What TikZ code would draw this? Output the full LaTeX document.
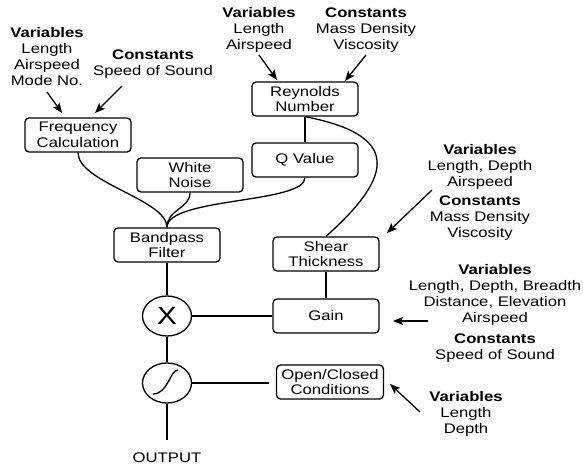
\documentclass[tikz,border=0pt]{standalone}
\usepackage{fontspec}
\setmainfont[FakeStretch=1.2]{Liberation Sans}
\usetikzlibrary{arrows.meta,shapes.geometric}
\begin{document}
\begin{tikzpicture}[x=1pt,y=-1pt,line width=1.3pt,
  box/.style={draw,rounded corners=4pt,minimum width=106pt,minimum height=34pt,align=center,inner sep=1pt,font=\fontsize{13.9}{15.5}\selectfont},
  lbl/.style={align=center,inner sep=0pt,font=\fontsize{13.9}{16}\selectfont},
  arr/.style={-{Stealth[length=10pt,width=8pt,inset=2pt]}},
  ell/.style={draw,ellipse,minimum width=49pt,minimum height=40pt,inner sep=0pt}]
\useasboundingbox (0,0) rectangle (583,466);

% boxes
\node[box] (freq) at (78,135) {Frequency\\Calculation};
\node[box] (rey) at (305,99) {Reynolds\\Number};
\node[box] (q) at (305,160) {Q Value};
\node[box] (wn) at (190,175) {White\\Noise};
\node[box] (bp) at (167,245) {Bandpass\\Filter};
\node[box] (sh) at (326,254) {Shear\\Thickness};
\node[box] (gain) at (326,316) {Gain};
\node[box,minimum width=107pt,inner sep=0pt] (oc) at (330,382) {Open/Closed\\Conditions};

% ellipses
\node[ell] (mul) at (167,316) {\fontsize{25}{25}\selectfont X};
\node[ell] (sig) at (167,383) {};
\path (sig.center) ++(-14,11) coordinate (s1);
\draw (s1) .. controls ++(15,0) and ++(-8,0) .. ++(25,-24);

% labels
\node[lbl] (v1) at (47,57) {\textbf{Variables}\\Length\\Airspeed\\Mode No.};
\node[lbl] (c1) at (153,64) {\textbf{Constants}\\Speed of Sound};
\node[lbl] (v2) at (259,30) {\textbf{Variables}\\Length\\Airspeed};
\node[lbl] (c2) at (366,30) {\textbf{Constants}\\Mass Density\\Viscosity};
\node[lbl] (v3) at (480,167) {\textbf{Variables}\\Length, Depth\\Airspeed};
\node[lbl] (c3) at (480,218) {\textbf{Constants}\\Mass Density\\Viscosity};
\node[lbl] (v4) at (495,295) {\textbf{Variables}\\Length, Depth, Breadth\\Distance, Elevation\\Airspeed};
\node[lbl] (c4) at (495,348) {\textbf{Constants}\\Speed of Sound};
\node[lbl] (v5) at (466,414) {\textbf{Variables}\\Length\\Depth};
\node[lbl] (out) at (167,458) {OUTPUT};

% arrow tail coordinates
\coordinate (a1s) at (47,92);   \coordinate (a1e) at (62,113);
\coordinate (a2s) at (122,86);  \coordinate (a2e) at (95,113);
\coordinate (a3s) at (259,55);  \coordinate (a3e) at (277,80);
\coordinate (a4s) at (366,55);  \coordinate (a4e) at (345,81);
\coordinate (a5s) at (432,190); \coordinate (a5e) at (387,233);
\coordinate (a6s) at (428,321); \coordinate (a6e) at (393,321);
\coordinate (a7s) at (420,412); \coordinate (a7e) at (390,384);
\draw[arr] (a1s) -- (a1e);
\draw[arr] (a2s) -- (a2e);
\draw[arr] (a3s) -- (a3e);
\draw[arr] (a4s) -- (a4e);
\draw[arr] (a5s) -- (a5e);
\draw[arr] (a6s) -- (a6e);
\draw[arr] (a7s) -- (a7e);

% connectors
\draw (freq.south) .. controls ++(0,30) and ++(0,-28) .. (bp.north);
\draw (wn.south) .. controls ++(0,16) and ++(0,-18) .. (bp.north);
\draw (q.south) .. controls ++(0,26) and ++(0,-30) .. (bp.north);
\draw (rey.south) -- (q.north);
\draw (rey.south) .. controls (400,135) and (395,175) .. (sh.north);
\draw (sh.south) -- (gain.north);
\draw (bp.south) -- (mul.north);
\draw (mul.east) -- (gain.west);
\draw (mul.south) -- (sig.north);
\coordinate (ocl) at (269,383);
\draw (sig.east) -- (ocl);
\coordinate (outp) at (167,440);
\draw (sig.south) -- (outp);
\end{tikzpicture}
\end{document}
